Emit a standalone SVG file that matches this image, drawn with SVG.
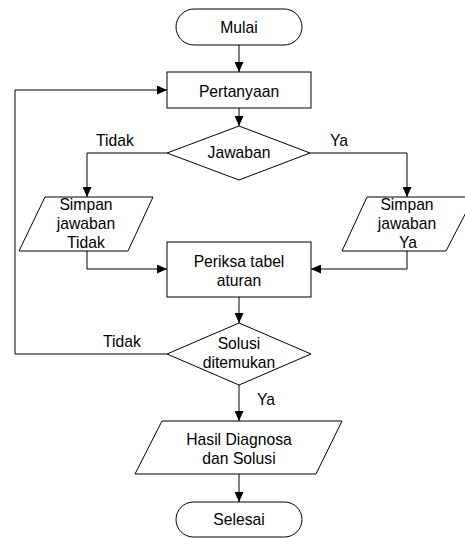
<svg xmlns="http://www.w3.org/2000/svg" width="465" height="538" viewBox="0 0 465 538">
<style>
.s{fill:#fff;stroke:#000;stroke-width:1}
.c{fill:none;stroke:#000;stroke-width:1}
text{font-family:"Liberation Sans",Arial,sans-serif;font-size:15.7px;fill:#000}
.m{text-anchor:middle}
</style>
<defs>
<marker id="ah" markerUnits="userSpaceOnUse" markerWidth="11" markerHeight="9" refX="10" refY="4.5" orient="auto">
<path d="M0,0 L10,4.5 L0,9 Z" fill="#000"/>
</marker>
</defs>
<g id="connectors">
<path class="c" d="M239,45 V72" marker-end="url(#ah)"/>
<path class="c" d="M239,108 V126" marker-end="url(#ah)"/>
<path class="c" d="M167,153 H87 V197" marker-end="url(#ah)"/>
<path class="c" d="M310,153 H407 V197" marker-end="url(#ah)"/>
<path class="c" d="M87,251 V269 H167" marker-end="url(#ah)"/>
<path class="c" d="M407,251 V269 H311" marker-end="url(#ah)"/>
<path class="c" d="M239,297 V323" marker-end="url(#ah)"/>
<path class="c" d="M167,354 H15 V90 H167" marker-end="url(#ah)"/>
<path class="c" d="M239,385 V421" marker-end="url(#ah)"/>
<path class="c" d="M239,474 V502" marker-end="url(#ah)"/>
<text x="96" y="146">Tidak</text>
<text x="330" y="146">Ya</text>
<text x="103" y="347">Tidak</text>
<text x="257" y="405">Ya</text>
</g>
<g id="mulai">
<rect class="s" x="176" y="9" width="126" height="36" rx="18"/>
<text class="m" x="239" y="33">Mulai</text>
</g>
<g id="pertanyaan">
<rect class="s" x="167" y="72" width="144" height="36"/>
<text class="m" x="239" y="96.5">Pertanyaan</text>
</g>
<g id="jawaban">
<polygon class="s" points="239,126 310,153 239,180 167,153"/>
<text class="m" x="239" y="158">Jawaban</text>
</g>
<g id="simpan-tidak">
<polygon class="s" points="45,197 153,197 128,251 19,251"/>
<text class="m" x="86" y="210">Simpan</text>
<text class="m" x="86" y="229">jawaban</text>
<text class="m" x="86" y="248">Tidak</text>
</g>
<g id="simpan-ya">
<polygon class="s" points="367,197 474,197 446,251 342,251"/>
<text class="m" x="407" y="210">Simpan</text>
<text class="m" x="407" y="229">jawaban</text>
<text class="m" x="408" y="248">Ya</text>
</g>
<g id="periksa">
<rect class="s" x="167" y="242" width="144" height="55"/>
<text class="m" x="239" y="266.5">Periksa tabel</text>
<text class="m" x="239" y="285.5">aturan</text>
</g>
<g id="solusi">
<polygon class="s" points="239,323 311,354 239,385 167,354"/>
<text class="m" x="239" y="348.5">Solusi</text>
<text class="m" x="239" y="368">ditemukan</text>
</g>
<g id="hasil">
<polygon class="s" points="162,421 342,421 316,474 135,474"/>
<text class="m" x="239" y="445">Hasil Diagnosa</text>
<text class="m" x="239" y="464">dan Solusi</text>
</g>
<g id="selesai">
<rect class="s" x="176" y="502" width="126" height="35" rx="17.5"/>
<text class="m" x="239" y="525">Selesai</text>
</g>
</svg>
